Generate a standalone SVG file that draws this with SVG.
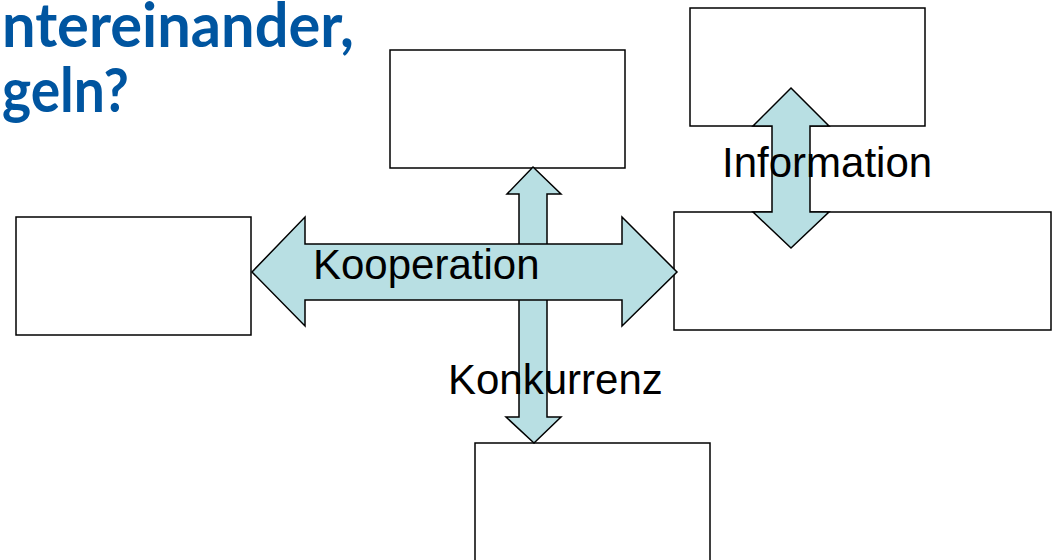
<svg xmlns="http://www.w3.org/2000/svg" width="1055" height="560" viewBox="0 0 1055 560">
<style>
.box{fill:#ffffff;stroke:#000000;stroke-width:1.5}
.arrow{fill:#b8dfe3;stroke:#000000;stroke-width:1.5;stroke-linejoin:miter}
.lbl{font-family:"Liberation Sans",Arial,sans-serif;font-size:42px;fill:#000000}
.title{font-family:Lato,"Open Sans",sans-serif;font-weight:bold;font-size:61px;fill:#0055a0}
</style>
<rect width="1055" height="560" fill="#ffffff"/>
<g id="title">
<text class="title"><tspan x="2" y="47" textLength="352" lengthAdjust="spacingAndGlyphs">ntereinander,</tspan><tspan x="2" y="112" textLength="127" lengthAdjust="spacingAndGlyphs">geln?</tspan></text>
</g>
<g id="box-top"><rect class="box" x="390" y="50" width="235" height="118"/></g>
<g id="box-topright"><rect class="box" x="690" y="8" width="235" height="118"/></g>
<g id="box-left"><rect class="box" x="16" y="217" width="235" height="118"/></g>
<g id="box-right"><rect class="box" x="674" y="212" width="377" height="118"/></g>
<g id="box-bottom"><rect class="box" x="475" y="443" width="235" height="130"/></g>
<g id="connectors">
<polygon id="arrow-konkurrenz" class="arrow" points="533,167 561,194 547,194 547,417 561,417 534,443 506,417 519,417 519,194 507,194"/>
<polygon id="arrow-kooperation" class="arrow" points="252,272 305,217 305,244 622,244 622,217 677,272 622,326 622,300 305,300 305,326"/>
<polygon id="arrow-information" class="arrow" points="791,88 829,126 810,126 810,212 829,212 791,248 753,212 772,212 772,126 753,126"/>
</g>
<g id="labels">
<text class="lbl" x="313" y="279">Kooperation</text>
<text class="lbl" x="722" y="177">Information</text>
<text class="lbl" x="448" y="394">Konkurrenz</text>
</g>
</svg>
